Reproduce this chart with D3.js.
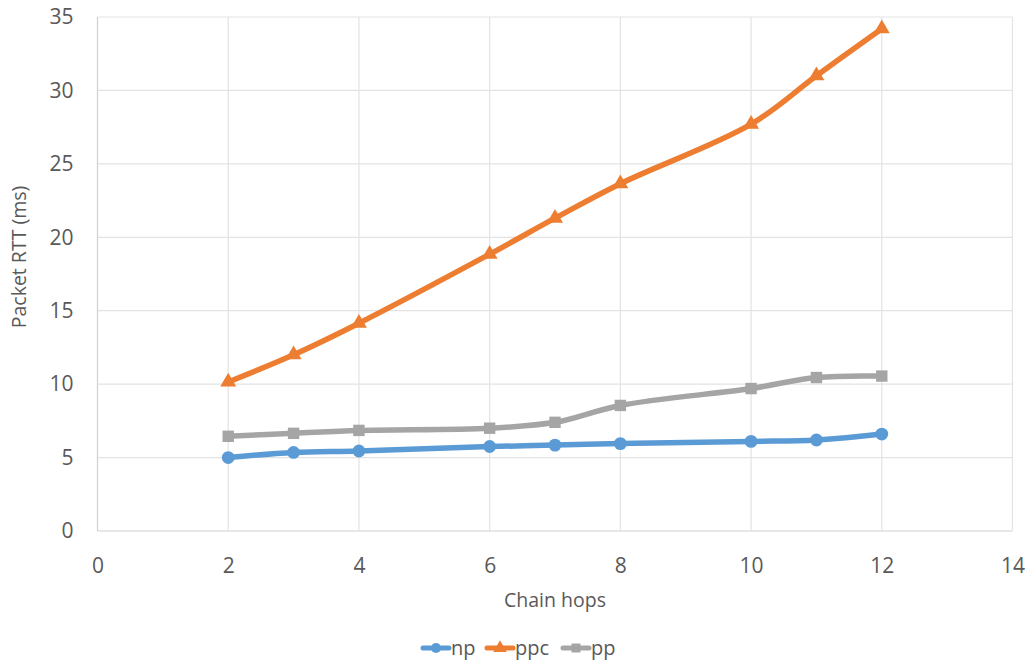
<!DOCTYPE html>
<html><head><meta charset="utf-8">
<script src="https://cdn.jsdelivr.net/npm/d3@7"></script>
<style>body{margin:0;background:#fff}svg{display:block}text{font-family:"Open Sans","Noto Sans",sans-serif;fill:#595959}</style>
</head><body><svg id="c" width="1029" height="661"></svg>
<script>
const hops = [2, 3, 4, 6, 7, 8, 10, 11, 12];
const np  = [5.0, 5.35, 5.45, 5.75, 5.85, 5.95, 6.1, 6.2, 6.6];
const ppc = [10.15, 12.0, 14.15, 18.85, 21.3, 23.65, 27.7, 31.0, 34.2];
const pp  = [6.45, 6.65, 6.85, 7.0, 7.4, 8.55, 9.7, 10.45, 10.55];
const xTicks = [0, 2, 4, 6, 8, 10, 12, 14];
const yTicks = [0, 5, 10, 15, 20, 25, 30, 35];
const seriesNames = ["np", "ppc", "pp"];
const seriesColors = ["#5b9bd5", "#ed7d31", "#a5a5a5"];
const seriesSymbols = [d3.symbolCircle, d3.symbolTriangle, d3.symbolSquare];
const seriesData = [np, ppc, pp];

const svg = d3.select("#c");
const x = d3.scaleLinear().domain([0, 14]).range([97.5, 1012.5]);
const y = d3.scaleLinear().domain([0, 35]).range([531, 17]);

const grid = svg.append("g");
grid.selectAll(".gy").data(yTicks).join("line")
  .attr("x1", x(0)).attr("x2", x(14)).attr("y1", d => y(d)).attr("y2", d => y(d))
  .attr("stroke", d => d === 0 ? "#d0d0d0" : "#e3e3e3").attr("stroke-width", 1.2);
grid.selectAll(".gx").data(xTicks).join("line")
  .attr("y1", y(0)).attr("y2", y(35)).attr("x1", d => x(d)).attr("x2", d => x(d))
  .attr("stroke", d => d === 0 ? "#d0d0d0" : "#e3e3e3").attr("stroke-width", 1.2);

const xAxis = svg.append("g").attr("transform", `translate(0,${y(0)})`)
  .call(d3.axisBottom(x).tickValues(xTicks).tickSize(0).tickPadding(27));
xAxis.select(".domain").remove();
xAxis.selectAll("text").attr("font-size", 21).style("fill", "#595959").attr("font-family", "Open Sans");

const yAxis = svg.append("g").attr("transform", `translate(${x(0)},0)`)
  .call(d3.axisLeft(y).tickValues(yTicks).tickSize(0).tickPadding(24));
yAxis.select(".domain").remove();
yAxis.selectAll("text").attr("font-size", 21).style("fill", "#595959").attr("font-family", "Open Sans");

svg.append("text").attr("x", 555).attr("y", 607).attr("text-anchor", "middle")
  .attr("font-size", 19.5).text("Chain hops");
svg.append("text").attr("transform", `translate(26,257) rotate(-90)`).attr("text-anchor", "middle")
  .attr("font-size", 19.5).text("Packet RTT (ms)");

const line = d3.line().x((d, i) => x(hops[i])).y(d => y(d)).curve(d3.curveCatmullRom.alpha(0.5));
seriesData.forEach((arr, k) => {
  svg.append("path").datum(arr).attr("d", line).attr("fill", "none")
    .attr("stroke", seriesColors[k]).attr("stroke-width", 5.5).attr("stroke-linejoin", "round").attr("stroke-linecap", "round");
  svg.append("g").selectAll("path").data(arr).join("path")
    .attr("transform", (d, i) => `translate(${x(hops[i])},${y(d)})`)
    .attr("d", d3.symbol().type(seriesSymbols[k]).size(k === 1 ? 110 : 130))
    .attr("fill", seriesColors[k]);
});

// legend
const legend = svg.append("g");
const legX = [422, 486, 562];
seriesNames.forEach((n, k) => {
  const g = legend.append("g").attr("transform", `translate(${legX[k]},648)`);
  g.append("line").attr("x1", 1).attr("x2", 27).attr("stroke", seriesColors[k]).attr("stroke-width", 5).attr("stroke-linecap","round");
  g.append("path").attr("transform", "translate(14,0)").attr("d", d3.symbol().type(seriesSymbols[k]).size(80)).attr("fill", seriesColors[k]);
  g.append("text").attr("x", 29).attr("y", 7).attr("font-size", 20).text(n);
});
</script></body></html>
